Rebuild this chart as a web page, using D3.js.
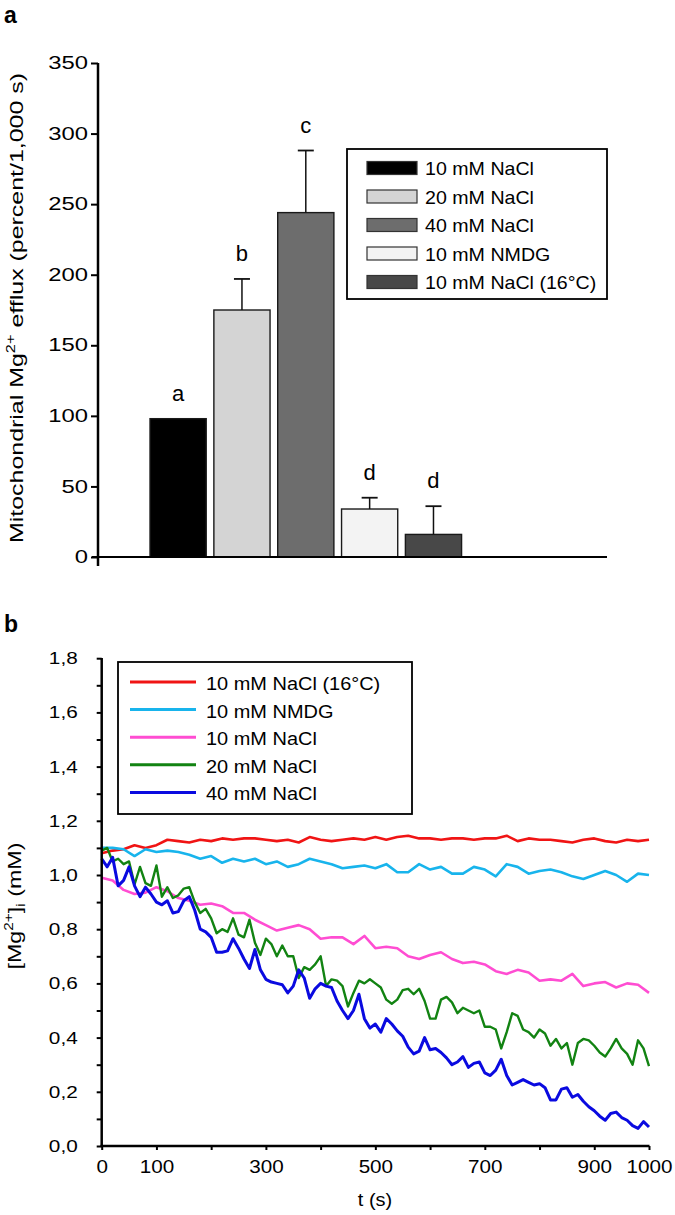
<!DOCTYPE html>
<html>
<head>
<meta charset="utf-8">
<script src="https://cdn.jsdelivr.net/npm/d3@7"></script>
<style>
  html, body { margin: 0; padding: 0; background: #fff; }
  svg { display: block; font-family: "Liberation Sans", Arial, sans-serif; }
</style>
</head>
<body>
<svg id="chart" width="675" height="1215"></svg>
<script>
// ---------------- DATA ----------------
// Panel a
const categories = ["10 mM NaCl", "20 mM NaCl", "40 mM NaCl", "10 mM NMDG", "10 mM NaCl (16°C)"];
const effluxMean = [98, 175, 244, 34, 16];
const effluxSEM = [0, 22, 44, 8, 20];
const sigLetters = ["a", "b", "c", "d", "d"];
const yTicksA = [0, 50, 100, 150, 200, 250, 300, 350];

// Panel b
const seriesNames = ["10 mM NaCl (16°C)", "10 mM NMDG", "10 mM NaCl", "20 mM NaCl", "40 mM NaCl"];
const yTicksB = [0, 0.1, 0.2, 0.3, 0.4, 0.5, 0.6, 0.7, 0.8, 0.9, 1.0, 1.1, 1.2, 1.3, 1.4, 1.5, 1.6, 1.7, 1.8];
const yTickLabelsB = {"0": "0,0", "0.2": "0,2", "0.4": "0,4", "0.6": "0,6", "0.8": "0,8", "1": "1,0", "1.2": "1,2", "1.4": "1,4", "1.6": "1,6", "1.8": "1,8"};
const xTicksB = [0, 100, 200, 300, 400, 500, 600, 700, 800, 900, 1000];
const xTickLabelsB = [0, 100, 300, 500, 700, 900, 1000];

const timeCoarse = [0,20,40,60,80,100,120,140,160,180,200,220,240,260,280,300,320,340,360,380,400,420,440,460,480,500,520,540,560,580,600,620,640,660,680,700,720,740,760,780,800,820,840,860,880,900,920,940,960,980,1000];
const timeFine = [0,10,20,30,40,50,60,70,80,90,100,110,120,130,140,150,160,170,180,190,200,210,220,230,240,250,260,270,280,290,300,310,320,330,340,350,360,370,380,390,400,410,420,430,440,450,460,470,480,490,500,510,520,530,540,550,560,570,580,590,600,610,620,630,640,650,660,670,680,690,700,710,720,730,740,750,760,770,780,790,800,810,820,830,840,850,860,870,880,890,900,910,920,930,940,950,960,970,980,990,1000];

const mgNaCl10_16C = [1.08,1.09,1.095,1.11,1.10,1.11,1.13,1.125,1.12,1.13,1.125,1.135,1.13,1.135,1.135,1.13,1.125,1.13,1.12,1.14,1.13,1.125,1.13,1.135,1.13,1.14,1.13,1.14,1.145,1.135,1.135,1.13,1.135,1.135,1.13,1.135,1.135,1.145,1.125,1.135,1.13,1.13,1.125,1.12,1.13,1.135,1.125,1.12,1.13,1.125,1.13];
const mgNMDG10 = [1.10,1.10,1.095,1.07,1.095,1.085,1.09,1.085,1.075,1.06,1.07,1.045,1.06,1.05,1.06,1.04,1.05,1.03,1.04,1.06,1.05,1.04,1.025,1.03,1.035,1.025,1.04,1.01,1.01,1.04,1.02,1.03,1.005,1.005,1.03,1.02,0.995,1.04,1.03,1.005,1.015,1.02,1.01,0.995,0.985,1.0,1.015,1.0,0.975,1.005,1.0];
const mgNaCl10 = [0.99,0.98,0.945,0.93,0.935,0.955,0.94,0.915,0.905,0.89,0.895,0.885,0.86,0.86,0.835,0.815,0.795,0.805,0.815,0.80,0.765,0.77,0.77,0.745,0.775,0.73,0.735,0.73,0.70,0.69,0.705,0.715,0.69,0.675,0.68,0.67,0.645,0.635,0.65,0.64,0.61,0.615,0.61,0.635,0.59,0.60,0.605,0.585,0.60,0.595,0.565];
const mgNaCl20 = [1.09,1.10,1.05,1.06,1.04,1.05,0.965,1.03,0.97,0.96,1.035,0.92,0.955,0.915,0.925,0.95,0.955,0.90,0.86,0.875,0.84,0.785,0.80,0.79,0.84,0.78,0.77,0.835,0.75,0.705,0.765,0.745,0.70,
  0.74,0.70,0.70,0.62,0.66,0.65,0.67,0.70,0.59,0.615,0.61,0.59,0.515,0.565,0.61,0.60,0.615,0.60,0.585,0.54,0.525,0.54,0.575,0.58,0.56,0.58,0.535,0.47,0.47,0.54,0.55,0.53,0.49,0.51,
  0.50,0.49,0.50,0.44,0.44,0.43,0.36,0.42,0.49,0.48,0.43,0.42,0.40,0.43,0.415,0.37,0.395,0.36,0.38,0.30,0.38,0.395,0.39,0.37,0.345,0.33,0.36,0.395,0.36,0.34,0.30,0.39,0.36,0.295];
const mgNaCl40 = [1.06,1.03,1.065,0.96,0.98,1.03,0.96,0.92,0.955,0.93,0.90,0.89,0.905,0.86,0.865,0.905,0.92,0.87,0.80,0.79,0.77,0.715,0.715,0.72,0.765,0.73,0.69,0.655,0.725,0.65,0.615,0.605,0.60,0.595,0.565,
  0.59,0.65,0.62,0.545,0.58,0.60,0.59,0.585,0.535,0.50,0.47,0.50,0.56,0.47,0.435,0.45,0.42,0.47,0.45,0.425,0.405,0.365,0.34,0.35,0.40,0.355,0.36,0.345,0.325,0.30,0.31,0.33,0.29,
  0.305,0.31,0.27,0.26,0.28,0.32,0.26,0.225,0.235,0.245,0.235,0.225,0.23,0.215,0.17,0.17,0.21,0.215,0.18,0.19,0.165,0.145,0.13,0.11,0.095,0.12,0.125,0.105,0.095,0.075,0.065,0.09,0.07];

// ---------------- STYLES ----------------
const barFills = ["#000000", "#d4d4d4", "#6d6d6d", "#f3f3f3", "#484848"];
const lineColors = ["#f01414", "#18b4ec", "#ff4dd2", "#128312", "#0a0ae0"];
const lineWidths = [2.6, 2.6, 2.6, 2.4, 3.0];

const svg = d3.select("#chart");
svg.append("rect").attr("width", 675).attr("height", 1215).attr("fill", "#fff");

function stretch(sel, f) {
  sel.each(function () {
    const L = this.getComputedTextLength();
    if (L > 0) {
      this.setAttribute("textLength", L * f);
      this.setAttribute("lengthAdjust", "spacingAndGlyphs");
    }
  });
}

// ---------------- PANEL A ----------------
const gA = svg.append("g");
const yA = d3.scaleLinear().domain([0, 350]).range([557, 63]);
const xA = d3.scaleBand().domain(categories).range([146.2, 465.4]).paddingInner(0.12).paddingOuter(0.06);

gA.append("text").attr("x", 4).attr("y", 23).attr("font-size", 23).attr("font-weight", "bold").text("a");

const axA = gA.append("g").attr("transform", "translate(98,0)")
  .call(d3.axisLeft(yA).tickValues(yTicksA).tickSize(7).tickPadding(3).tickFormat(d3.format("d")));
axA.select(".domain").remove();
axA.selectAll(".tick line").attr("stroke", "#000").attr("stroke-width", 2);
axA.selectAll(".tick text").attr("font-size", 17.5).attr("fill", "#000").attr("font-family", "Liberation Sans, Arial, sans-serif");
stretch(axA.selectAll(".tick text"), 1.36);

gA.append("line").attr("x1", 98).attr("x2", 98).attr("y1", 63).attr("y2", 566).attr("stroke", "#000").attr("stroke-width", 2.5);

// bars
gA.selectAll(".bar").data(categories).join("rect")
  .attr("class", "bar")
  .attr("x", d => xA(d))
  .attr("width", xA.bandwidth())
  .attr("y", (d, i) => yA(effluxMean[i]))
  .attr("height", (d, i) => yA(0) - yA(effluxMean[i]))
  .attr("fill", (d, i) => barFills[i])
  .attr("stroke", "#1a1a1a")
  .attr("stroke-width", 1.4);

gA.append("line").attr("x1", 92).attr("x2", 607).attr("y1", 557).attr("y2", 557).attr("stroke", "#000").attr("stroke-width", 2.2);

// error bars
categories.forEach((c, i) => {
  if (effluxSEM[i] <= 0) return;
  const cx = xA(c) + xA.bandwidth() / 2;
  gA.append("line").attr("x1", cx).attr("x2", cx)
    .attr("y1", yA(effluxMean[i])).attr("y2", yA(effluxMean[i] + effluxSEM[i]))
    .attr("stroke", "#111").attr("stroke-width", 1.5);
  gA.append("line").attr("x1", cx - 8).attr("x2", cx + 8)
    .attr("y1", yA(effluxMean[i] + effluxSEM[i])).attr("y2", yA(effluxMean[i] + effluxSEM[i]))
    .attr("stroke", "#111").attr("stroke-width", 1.8);
});

// significance letters
gA.selectAll(".sig").data(categories).join("text")
  .attr("class", "sig")
  .attr("x", d => xA(d) + xA.bandwidth() / 2)
  .attr("y", (d, i) => yA(effluxMean[i] + effluxSEM[i]) - 18)
  .attr("text-anchor", "middle")
  .attr("font-size", 22)
  .text((d, i) => sigLetters[i]);

// y title a
const tA = gA.append("text")
  .attr("transform", "translate(23,308) rotate(-90)")
  .attr("text-anchor", "middle")
  .attr("font-size", 19);
tA.append("tspan").text("Mitochondrial Mg");
tA.append("tspan").attr("font-size", 12.5).attr("dy", -8).text("2+");
tA.append("tspan").attr("dy", 8).text(" efflux (percent/1,000 s)");
tA.attr("textLength", 470).attr("lengthAdjust", "spacingAndGlyphs");

// legend a
const lgA = gA.append("g");
lgA.append("rect").attr("x", 347).attr("y", 149).attr("width", 260).attr("height", 150)
  .attr("fill", "#fff").attr("stroke", "#000").attr("stroke-width", 1.8);
categories.forEach((c, i) => {
  const cy = 168 + 28.5 * i;
  lgA.append("rect").attr("x", 367).attr("y", cy - 6.5).attr("width", 50).attr("height", 13)
    .attr("fill", barFills[i]).attr("stroke", "#333").attr("stroke-width", 1.2);
  const t = lgA.append("text").attr("x", 425).attr("y", cy + 7).attr("font-size", 18.5).text(c);
  stretch(t, 1.06);
});

// ---------------- PANEL B ----------------
const gB = svg.append("g");
const xB = d3.scaleLinear().domain([0, 1000]).range([101.7, 649]);
const yB = d3.scaleLinear().domain([0, 1.8]).range([1146, 658.2]);

gB.append("text").attr("x", 4).attr("y", 632).attr("font-size", 23).attr("font-weight", "bold").text("b");

const ayB = gB.append("g").attr("transform", "translate(101.7,0)")
  .call(d3.axisLeft(yB).tickValues(yTicksB).tickSize(5).tickPadding(19)
    .tickFormat(d => yTickLabelsB[String(+d.toFixed(1))] || ""));
ayB.select(".domain").remove();
ayB.selectAll(".tick line").attr("stroke", "#000").attr("stroke-width", 2);
ayB.selectAll(".tick text").attr("font-size", 17).attr("fill", "#000").attr("font-family", "Liberation Sans, Arial, sans-serif");
stretch(ayB.selectAll(".tick text"), 1.22);

const axB = gB.append("g").attr("transform", "translate(0,1146)")
  .call(d3.axisBottom(xB).tickValues(xTicksB).tickSize(4).tickPadding(10.5)
    .tickFormat(d => xTickLabelsB.includes(d) ? String(d) : ""));
axB.select(".domain").remove();
axB.selectAll(".tick line").attr("stroke", "#000").attr("stroke-width", 2);
axB.selectAll(".tick text").attr("font-size", 17.5).attr("fill", "#000").attr("font-family", "Liberation Sans, Arial, sans-serif");
stretch(axB.selectAll(".tick text"), 1.18);

// lines
const seriesData = [
  timeCoarse.map((t, i) => [t, mgNaCl10_16C[i]]),
  timeCoarse.map((t, i) => [t, mgNMDG10[i]]),
  timeCoarse.map((t, i) => [t, mgNaCl10[i]]),
  timeFine.map((t, i) => [t, mgNaCl20[i]]),
  timeFine.map((t, i) => [t, mgNaCl40[i]])
];
const line = d3.line().x(d => xB(d[0])).y(d => yB(d[1]));
gB.selectAll(".series").data(seriesData).join("path")
  .attr("class", "series")
  .attr("d", line)
  .attr("fill", "none")
  .attr("stroke", (d, i) => lineColors[i])
  .attr("stroke-width", (d, i) => lineWidths[i])
  .attr("stroke-linejoin", "round");

// axis lines b
gB.append("line").attr("x1", 101.7).attr("x2", 101.7).attr("y1", 658).attr("y2", 1147).attr("stroke", "#000").attr("stroke-width", 2.5);
gB.append("line").attr("x1", 100.5).attr("x2", 649.5).attr("y1", 1146).attr("y2", 1146).attr("stroke", "#000").attr("stroke-width", 2.5);

// titles b
const xt = gB.append("text").attr("x", 375).attr("y", 1206).attr("text-anchor", "middle").attr("font-size", 19).text("t (s)");
stretch(xt, 1.05);

const tB = gB.append("text")
  .attr("transform", "translate(21,906) rotate(-90)")
  .attr("text-anchor", "middle")
  .attr("font-size", 19);
tB.append("tspan").text("[Mg");
tB.append("tspan").attr("font-size", 12.5).attr("dy", -8).text("2+");
tB.append("tspan").attr("dy", 8).text("]");
tB.append("tspan").attr("font-size", 12.5).attr("dy", 4).text("i");
tB.append("tspan").attr("dy", -4).text(" (mM)");
tB.attr("textLength", 127).attr("lengthAdjust", "spacingAndGlyphs");

// legend b
const lgB = gB.append("g");
lgB.append("rect").attr("x", 118).attr("y", 662).attr("width", 294).attr("height", 152)
  .attr("fill", "#fff").attr("stroke", "#000").attr("stroke-width", 1.8);
seriesNames.forEach((s, i) => {
  const cy = 682 + 27.6 * i;
  lgB.append("line").attr("x1", 130).attr("x2", 196).attr("y1", cy).attr("y2", cy)
    .attr("stroke", lineColors[i]).attr("stroke-width", 3);
  const t = lgB.append("text").attr("x", 206).attr("y", cy + 8).attr("font-size", 17.5).text(s);
  stretch(t, 1.14);
});
</script>
</body>
</html>
